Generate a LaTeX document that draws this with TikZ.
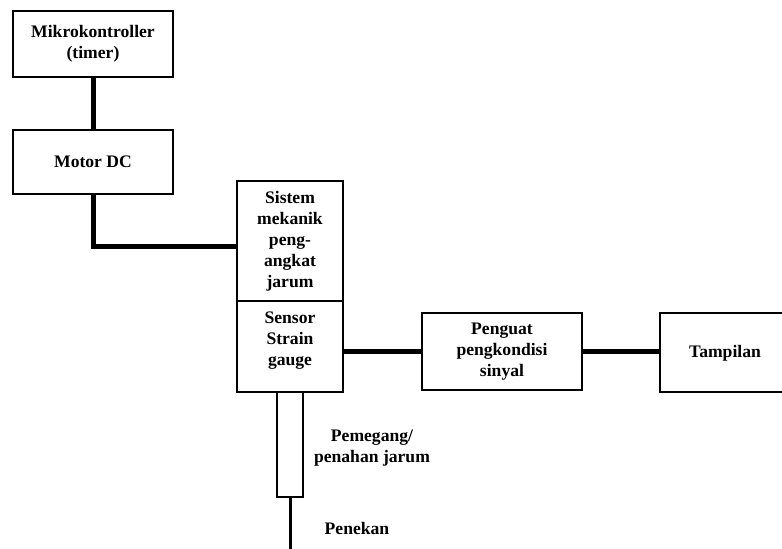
\documentclass[tikz,border=0pt]{standalone}
\usepackage{fontspec}
\setmainfont{Liberation Serif}
\begin{document}
\begin{tikzpicture}[x=1pt,y=-1pt,
  box/.style={draw,line width=2pt,inner sep=0pt,align=center,
    font=\fontsize{17.6}{21}\selectfont\bfseries},
  lbl/.style={inner sep=0pt,align=center,font=\fontsize{17.6}{21}\selectfont\bfseries},
  conn/.style={line width=5pt},
  thin/.style={line width=3pt}]
\useasboundingbox (0,0) rectangle (782,549);
\clip (0,0) rectangle (782,549);
\node[box,minimum width=160pt,minimum height=66pt] (mikro) at (93,44) {Mikrokontroller\\(timer)};
\node[box,minimum width=160pt,minimum height=64pt] (motor) at (93,162) {Motor DC};
\node[box,minimum width=106pt,minimum height=120pt] (sistem) at (290,241) {Sistem\\mekanik\\peng-\\angkat\\jarum};
\node[box,minimum width=106pt,minimum height=91pt] (sensor) at (290,346.5) {};
\node[lbl] (sensortxt) at (290,341) {Sensor\\Strain\\gauge};
\node[box,minimum width=160pt,minimum height=77pt] (penguat) at (502,351.5) {Penguat\\pengkondisi\\sinyal};
\node[box,minimum width=140pt,minimum height=79pt] (tampilan) at (730,352.5) {};
\node[lbl] (tampilantxt) at (725,353) {Tampilan};
\node[draw,line width=2pt,inner sep=0pt,minimum width=26pt,minimum height=105pt] (holder) at (290,444.5) {};
\node[lbl] (pemegang) at (372,448) {Pemegang/\\penahan jarum};
\node[lbl] (penekan) at (357,528) {Penekan};
\coordinate (pend) at (290,552);
\draw[conn] (mikro.south) -- (motor.north);
\draw[conn] (motor.south) |- ([yshift=-5pt]sistem.west);
\draw[conn] (penguat.west -| sensor.east) -- (penguat.west);
\draw[conn] (penguat.east) -- (penguat.east -| tampilan.west);
\draw[thin] (holder.south) -- (pend);
\end{tikzpicture}
\end{document}
